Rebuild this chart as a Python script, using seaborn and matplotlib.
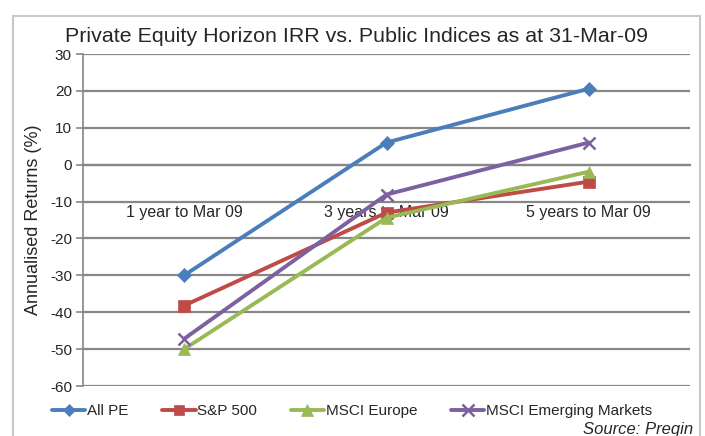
import matplotlib
matplotlib.use("Agg")
import matplotlib.pyplot as plt
from matplotlib.patches import Rectangle
from matplotlib.lines import Line2D
import seaborn as sns
import pandas as pd

categories = ["1 year to Mar 09", "3 years to Mar 09", "5 years to Mar 09"]
series_names = ["All PE", "S&P 500", "MSCI Europe", "MSCI Emerging Markets"]
all_pe = [-30.0, 6.0, 20.6]
sp500 = [-38.2, -13.0, -4.6]
msci_europe = [-50.0, -14.4, -1.9]
msci_em = [-47.2, -8.1, 6.0]
yticks = [30, 20, 10, 0, -10, -20, -30, -40, -50, -60]

colors = ["#4A7EBB", "#BE4B48", "#98B954", "#7D60A0"]
markers = ["D", "s", "^", "x"]
msizes = [7, 8, 9, 9]

values = [all_pe, sp500, msci_europe, msci_em]
rows = []
for name, vals in zip(series_names, values):
    for i, v in enumerate(vals):
        rows.append({"series": name, "pos": i, "value": v})
df = pd.DataFrame(rows)

sns.set_theme(style="white")
plt.rcParams["font.family"] = ["Liberation Sans", "DejaVu Sans"]

fig = plt.figure(figsize=(7.05, 4.36), dpi=100)
ax = fig.add_axes([83/705, 1-386/436, (690-83)/705, (386-54)/436])

for name, c, m, ms in zip(series_names, colors, markers, msizes):
    sub = df[df["series"] == name]
    sns.lineplot(data=sub, x="pos", y="value", ax=ax, color=c, lw=2.8,
                 marker=m, markersize=ms, markeredgecolor=c, markerfacecolor=c,
                 mew=1.8 if m == "x" else 0.5, legend=False, zorder=3)

ax.set_xlim(-0.5, 2.5)
ax.set_ylim(-60, 30)
ax.set_yticks(yticks)
ax.set_yticklabels([str(t) for t in yticks], fontsize=11)
for t in yticks:
    ax.axhline(t, color="#878787", lw=1.6, zorder=1)

ax.spines["bottom"].set_position(("data", 0))
ax.spines["bottom"].set_color("#878787")
ax.spines["bottom"].set_linewidth(1.6)
ax.spines["left"].set_color("#878787")
ax.spines["left"].set_linewidth(1.2)
ax.spines["top"].set_visible(False)
ax.spines["right"].set_visible(False)

ax.set_xticks(range(len(categories)))
ax.set_xticklabels(categories, fontsize=11.5)
ax.set_xticks([0.5, 1.5, 2.5], minor=True)
ax.tick_params(axis="x", which="major", length=0, pad=29)
ax.tick_params(axis="x", which="minor", length=5, color="#878787", width=1.2, direction="out")
ax.tick_params(axis="y", which="major", length=5, color="#878787", width=1.2, direction="out", left=True, pad=3)
ax.set_xlabel("")
ax.set_ylabel("Annualised Returns (%)", fontsize=13, labelpad=6)

fig.text(357/705, 1-37/436, "Private Equity Horizon IRR vs. Public Indices as at 31-Mar-09",
         ha="center", va="center", fontsize=15.4)

handles = [Line2D([0], [0], color=c, lw=2.8, marker=m, markersize=ms*0.9,
                  markerfacecolor=c, markeredgecolor=c, mew=1.8 if m == "x" else 0.5)
           for c, m, ms in zip(colors, markers, msizes)]
fig.legend(handles, series_names, loc="center", bbox_to_anchor=(352/705, 1-411/436),
           ncol=4, frameon=False, fontsize=11, handlelength=2.2, handletextpad=0.1,
           columnspacing=2.2)

fig.text(583/705, 1-429/436, "Source: Preqin", ha="left", va="center",
         fontsize=12, style="italic")

fig.patches.append(Rectangle((13/705, -0.05), (700-13)/705, 1-16/436+0.05,
                             transform=fig.transFigure, fill=False,
                             ec="#c8c8c8", lw=1.5))

fig.savefig("out.png", dpi=100)
